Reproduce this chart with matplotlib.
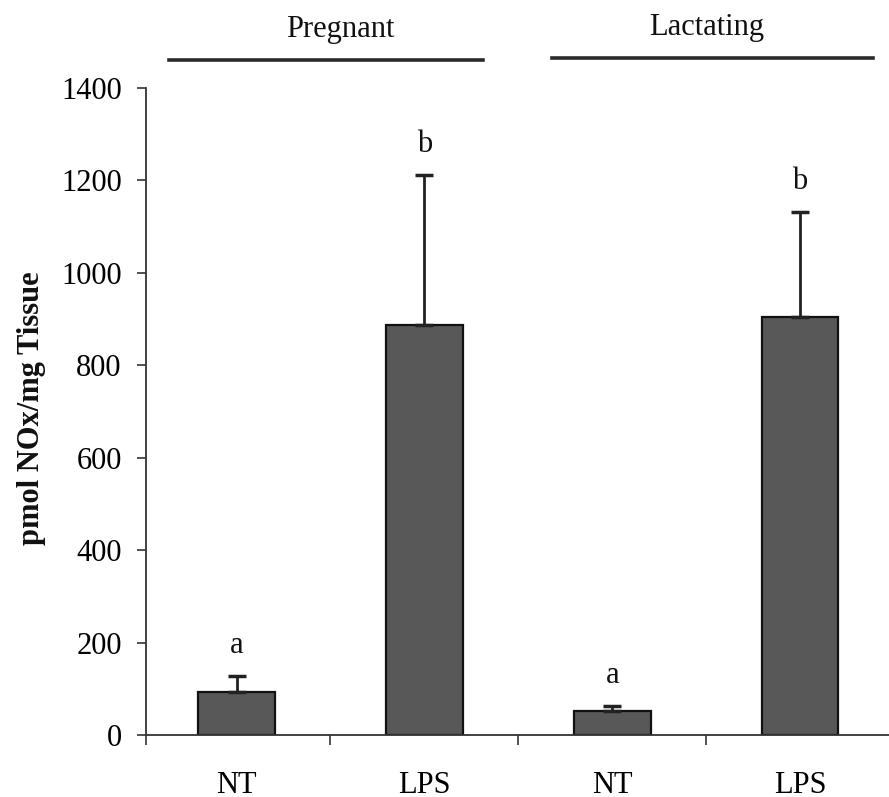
import matplotlib
matplotlib.use("Agg")
import matplotlib.pyplot as plt
from matplotlib.lines import Line2D

# Data
categories = ["NT", "LPS", "NT", "LPS"]
groups = ["Pregnant", "Lactating"]
means = [94, 887, 51, 905]
sem_up = [34, 325, 12, 227]
letters = ["a", "b", "a", "b"]
yticks = [0, 200, 400, 600, 800, 1000, 1200, 1400]

plt.rcParams["font.family"] = ["Liberation Serif", "DejaVu Serif"]

W, H = 889, 797
fig = plt.figure(figsize=(W / 100, H / 100), dpi=100)
ax = fig.add_axes([146 / W, 62 / H, (W - 146) / W, (735 - 88) / H])

x = list(range(len(categories)))
bar_color = "#585858"
ax.bar(x, means, width=0.41, color=bar_color, edgecolor="#111111",
       linewidth=1.6, zorder=2)
ax.errorbar(x, means, yerr=[[0] * len(means), sem_up], fmt="none",
            ecolor="#222222", elinewidth=2.0, capsize=6.3, capthick=2.5,
            zorder=3)

for xi, m, e, lab in zip(x, means, sem_up, letters):
    ax.annotate(lab, xy=(xi, m + e), xytext=(0, 22), textcoords="offset points",
                ha="center", va="center", fontsize=22, color="#111111")

x_left = (146 - 236.6) / 187.8
x_right = (889 - 236.6) / 187.8
ax.set_xlim(x_left, x_right)
ax.set_ylim(0, 1400)

ax.set_yticks(yticks)
ax.set_yticklabels([str(t) for t in yticks])
ax.set_xticks([x_left, 0.5, 1.5, 2.5])
ax.set_xticklabels([])
ax.set_xticks(x, minor=True)
ax.set_xticklabels(categories, minor=True)

ax.tick_params(axis="y", direction="out", length=6.5, width=1.2,
               color="#333333", pad=11, labelsize=22)
ax.tick_params(axis="x", which="major", direction="out", length=7.2,
               width=1.2, color="#333333")
ax.tick_params(axis="x", which="minor", length=0, pad=26, labelsize=22)

for side in ["top", "right"]:
    ax.spines[side].set_visible(False)
for side in ["left", "bottom"]:
    ax.spines[side].set_linewidth(1.3)
    ax.spines[side].set_color("#333333")

# y-axis label
fig.text(32 / W, 1 - 408 / H, "pmol NOx/mg Tissue", rotation=90,
         ha="center", va="center", fontsize=22, fontweight="bold",
         color="#111111")

# group headers with rules underneath
header_specs = [(groups[0], 340, 30, 169, 483, 60),
                (groups[1], 707, 28, 552, 873, 58)]
for name, cx, cy, x0, x1, ly in header_specs:
    fig.text(cx / W, 1 - cy / H, name, ha="center", va="center",
             fontsize=22, color="#111111")
    fig.add_artist(Line2D([x0 / W, x1 / W], [1 - ly / H, 1 - ly / H],
                          transform=fig.transFigure, color="#2a2a2a",
                          linewidth=2.6))

fig.savefig("out.png", dpi=100, facecolor="white")
